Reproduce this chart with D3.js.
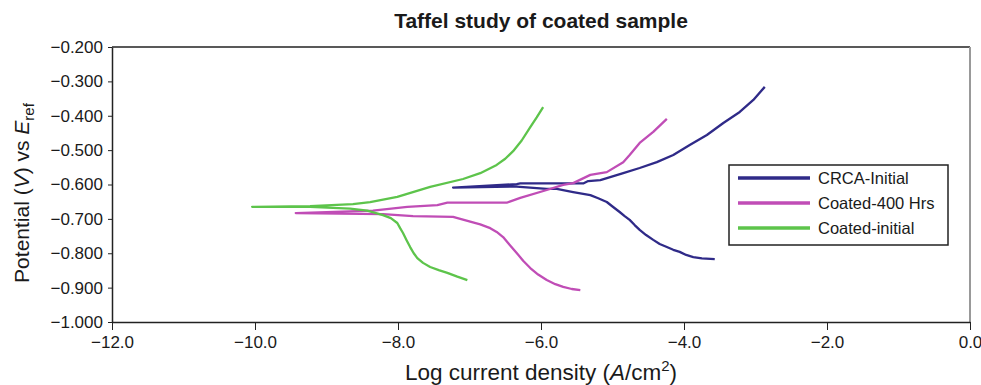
<!DOCTYPE html>
<html>
<head>
<meta charset="utf-8">
<script src="https://cdn.jsdelivr.net/npm/d3@7"></script>
<style>
  body { margin: 0; background: #fff; }
  svg { display: block; font-family: "Liberation Sans", Arial, sans-serif; }
</style>
</head>
<body>
<svg width="981" height="385"></svg>
<script>
// each series: cathodic end -> corrosion point -> anodic end
const crcaLogI = [-3.57, -3.75, -3.87, -3.97, -4.06, -4.15, -4.24, -4.34, -4.43, -4.53, -4.62, -4.69, -4.76, -4.83, -4.90,
                  -5.00, -5.08, -5.20, -5.31, -5.55, -5.78, -5.92, -6.34, -7.23,
                  -6.34, -6.29, -5.41, -5.34, -5.17, -4.85, -4.62, -4.38, -4.15, -3.92, -3.68, -3.45, -3.22, -3.03, -2.87]
const crcaE = [-0.817, -0.815, -0.811, -0.805, -0.796, -0.790, -0.782, -0.773, -0.761, -0.747, -0.732, -0.718, -0.703, -0.692, -0.680,
               -0.664, -0.651, -0.640, -0.631, -0.622, -0.613, -0.613, -0.606, -0.609,
               -0.599, -0.597, -0.597, -0.590, -0.587, -0.567, -0.552, -0.535, -0.514, -0.485, -0.456, -0.421, -0.389, -0.354, -0.316]

const coated400LogI = [-5.45, -5.57, -5.69, -5.80, -5.92, -6.04, -6.15, -6.25, -6.34, -6.44, -6.53, -6.62, -6.71, -6.85, -6.99,
                       -7.23, -7.79, -8.21, -9.43,
                       -8.35, -7.87, -7.45, -7.31, -6.48, -6.29, -5.92, -5.69, -5.55, -5.31, -5.08, -4.85, -4.76, -4.62, -4.43, -4.24]
const coated400E = [-0.907, -0.904, -0.898, -0.890, -0.878, -0.862, -0.843, -0.822, -0.799, -0.775, -0.753, -0.738, -0.727, -0.716, -0.708,
                    -0.694, -0.692, -0.686, -0.683,
                    -0.676, -0.665, -0.660, -0.653, -0.653, -0.639, -0.616, -0.601, -0.596, -0.572, -0.564, -0.535, -0.514, -0.479, -0.447, -0.409]

const coatedInitLogI = [-7.03, -7.17, -7.31, -7.43, -7.55, -7.65, -7.73, -7.78, -7.83, -7.88, -7.93, -7.97, -8.01, -8.10, -8.21,
                        -8.43, -8.67, -9.23, -10.04,
                        -9.23, -8.63, -8.39, -8.01, -7.55, -7.09, -6.85, -6.62, -6.50, -6.39, -6.27, -6.15, -6.06, -5.97]
const coatedInitE = [-0.878, -0.868, -0.857, -0.849, -0.840, -0.828, -0.814, -0.800, -0.782, -0.762, -0.741, -0.727, -0.712, -0.698, -0.689,
                     -0.676, -0.670, -0.665, -0.665,
                     -0.663, -0.657, -0.651, -0.636, -0.607, -0.584, -0.567, -0.543, -0.525, -0.503, -0.472, -0.433, -0.405, -0.375]

const seriesNames = ['CRCA-Initial', 'Coated-400 Hrs', 'Coated-initial']
const seriesColors = ['#2f2a88', '#c04db6', '#5dc44b']
const seriesX = [crcaLogI, coated400LogI, coatedInitLogI]
const seriesY = [crcaE, coated400E, coatedInitE]

const xTicks = [-12, -10, -8, -6, -4, -2, 0]
const yTicks = [-1.0, -0.9, -0.8, -0.7, -0.6, -0.5, -0.4, -0.3, -0.2]

const svg = d3.select('svg')
const plotLeft = 112, plotRight = 970, plotTop = 47, plotBottom = 322

const x = d3.scaleLinear().domain([-12, 0]).range([plotLeft, plotRight])
const y = d3.scaleLinear().domain([-1.0, -0.2]).range([plotBottom, plotTop])

// frame
svg.append('line').attr('x1', plotLeft).attr('x2', plotRight).attr('y1', plotTop).attr('y2', plotTop)
    .attr('stroke', '#222').attr('stroke-width', 1.5)
svg.append('line').attr('x1', plotRight).attr('x2', plotRight).attr('y1', plotTop).attr('y2', plotBottom)
    .attr('stroke', '#999').attr('stroke-width', 2)

const xAxis = svg.append('g')
    .attr('transform', `translate(0, ${plotBottom})`)
    .call(d3.axisBottom(x).tickValues(xTicks).tickSize(8).tickSizeOuter(0).tickFormat(d3.format('.1f')))
xAxis.select('.domain').attr('stroke', '#222').attr('stroke-width', 1.5)
xAxis.selectAll('.tick line').attr('stroke', '#222')
xAxis.selectAll('.tick text').attr('font-size', 17).attr('fill', '#1a1a1a').attr('dy', '0.9em')
    .attr('font-family', '"Liberation Sans", Arial, sans-serif')

const yAxis = svg.append('g')
    .attr('transform', `translate(${plotLeft}, 0)`)
    .call(d3.axisLeft(y).tickValues(yTicks).tickSize(4).tickSizeOuter(0).tickFormat(d3.format('.3f')))
yAxis.select('.domain').attr('stroke', '#222').attr('stroke-width', 1.5)
yAxis.selectAll('.tick line').attr('stroke', '#222')
yAxis.selectAll('.tick text').attr('font-size', 17).attr('fill', '#1a1a1a').attr('x', -9)
    .attr('font-family', '"Liberation Sans", Arial, sans-serif')

// curves
const line = d3.line().x(d => x(d[0])).y(d => y(d[1]))
seriesNames.forEach((name, i) => {
    const pts = seriesX[i].map((v, j) => [v, seriesY[i][j]])
    svg.append('path')
        .datum(pts)
        .attr('d', line)
        .attr('fill', 'none')
        .attr('stroke', seriesColors[i])
        .attr('stroke-width', 2.3)
        .attr('stroke-linejoin', 'round')
})

// title
svg.append('text')
    .attr('x', (plotLeft + plotRight) / 2).attr('y', 28)
    .attr('text-anchor', 'middle')
    .attr('font-size', 21).attr('font-weight', 'bold').attr('fill', '#1a1a1a')
    .text('Taffel study of coated sample')

// x label
const xl = svg.append('text')
    .attr('x', (plotLeft + plotRight) / 2).attr('y', 380)
    .attr('text-anchor', 'middle')
    .attr('font-size', 22.5).attr('fill', '#1a1a1a')
xl.append('tspan').text('Log current density (')
xl.append('tspan').attr('font-style', 'italic').text('A')
xl.append('tspan').text('/cm')
xl.append('tspan').attr('font-size', 15).attr('dy', -9).text('2')
xl.append('tspan').attr('dy', 9).text(')')

// y label
const yl = svg.append('text')
    .attr('transform', 'translate(29, 193) rotate(-90)')
    .attr('text-anchor', 'middle')
    .attr('font-size', 21).attr('fill', '#1a1a1a')
yl.append('tspan').text('Potential (')
yl.append('tspan').attr('font-style', 'italic').text('V')
yl.append('tspan').text(') vs ')
yl.append('tspan').attr('font-style', 'italic').text('E')
yl.append('tspan').attr('font-size', 15).attr('dy', 5).text('ref')

// legend
const lg = svg.append('g')
lg.append('rect').attr('x', 729).attr('y', 165).attr('width', 219).attr('height', 80)
    .attr('fill', '#fff').attr('stroke', '#222').attr('stroke-width', 1.5)
seriesNames.forEach((name, i) => {
    const ry = 178 + i * 25
    lg.append('line').attr('x1', 738).attr('x2', 810).attr('y1', ry).attr('y2', ry)
        .attr('stroke', seriesColors[i]).attr('stroke-width', 3.5)
    lg.append('text').attr('x', 818).attr('y', ry + 6)
        .attr('font-size', 16.5).attr('fill', '#1a1a1a').text(name)
})
</script>
</body>
</html>
